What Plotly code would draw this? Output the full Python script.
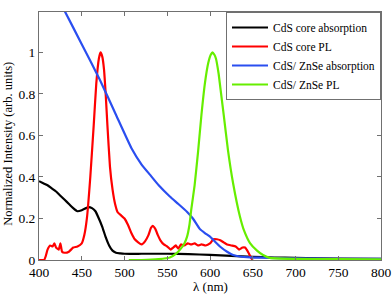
import plotly.graph_objects as go

# CdS core absorption
abs_core_x = [400, 405, 410, 415, 420, 425, 430, 435, 440, 445, 450, 455, 458, 462, 466, 470, 474, 478, 482, 486, 490, 495, 500, 520, 550, 575, 600, 625, 650, 675, 700, 750, 800]
abs_core_y = [0.38, 0.37, 0.36, 0.345, 0.33, 0.31, 0.29, 0.27, 0.25, 0.235, 0.24, 0.25, 0.255, 0.25, 0.235, 0.2, 0.16, 0.11, 0.07, 0.045, 0.035, 0.032, 0.03, 0.03, 0.03, 0.028, 0.025, 0.02, 0.015, 0.012, 0.01, 0.007, 0.005]

# CdS core PL
pl_core_x = [400, 406, 408, 410, 413, 416, 418, 420, 423, 425, 427, 430, 435, 440, 445, 450, 453, 456, 460, 464, 467, 470, 472, 474, 476, 478, 480, 483, 486, 489, 492, 496, 500, 504, 508, 512, 516, 520, 524, 528, 531, 533, 536, 539, 542, 546, 550, 554, 557, 560, 563, 566, 570, 574, 578, 582, 586, 590, 595, 600, 604, 608, 612, 616, 620, 625, 630, 634, 638, 641, 645, 648, 650]
pl_core_y = [0.0, 0.0, 0.02, 0.05, 0.07, 0.065, 0.08, 0.06, 0.05, 0.08, 0.04, 0.035, 0.04, 0.06, 0.065, 0.08, 0.12, 0.2, 0.4, 0.65, 0.85, 0.97, 1.0, 0.98, 0.92, 0.8, 0.65, 0.45, 0.34, 0.27, 0.23, 0.215, 0.2, 0.17, 0.13, 0.1, 0.085, 0.075, 0.09, 0.12, 0.155, 0.165, 0.15, 0.12, 0.095, 0.075, 0.065, 0.05, 0.06, 0.07, 0.055, 0.075, 0.07, 0.08, 0.075, 0.08, 0.07, 0.075, 0.07, 0.08, 0.1, 0.1, 0.095, 0.085, 0.075, 0.07, 0.065, 0.05, 0.06, 0.06, 0.035, 0.01, 0.0]

# CdS/ZnSe absorption
abs_shell_x = [400, 415, 430, 450, 471, 490, 508, 520, 530, 540, 553, 563, 573, 580, 588, 594, 600, 606, 612, 620, 627, 635, 647, 660, 680, 700, 750, 800]
abs_shell_y = [1.45, 1.32, 1.2, 1.04, 0.87, 0.7, 0.54, 0.46, 0.41, 0.36, 0.306, 0.27, 0.233, 0.2, 0.15, 0.13, 0.113, 0.088, 0.064, 0.04, 0.024, 0.017, 0.013, 0.011, 0.009, 0.008, 0.006, 0.005]

# CdS/ZnSe PL
pl_shell_x = [505, 520, 540, 553, 560, 565, 570, 573, 576, 578, 582, 586, 590, 594, 598, 601, 603, 605, 607, 610, 613, 616, 621, 627, 635, 640, 647, 655, 662, 670, 700, 750, 800]
pl_shell_y = [0.0, 0.0, 0.004, 0.012, 0.03, 0.05, 0.08, 0.11, 0.17, 0.24, 0.36, 0.52, 0.7, 0.85, 0.95, 0.99, 1.0, 0.99, 0.97, 0.9, 0.8, 0.7, 0.53, 0.37, 0.21, 0.14, 0.08, 0.045, 0.024, 0.01, 0.005, 0.004, 0.003]

series_names = ["CdS core absorption", "CdS core PL", "CdS/ ZnSe absorption", "CdS/ ZnSe PL"]
series_colors = ["#000000", "#ff0000", "#2a4ef0", "#66ee00"]

x_ticks = [400, 450, 500, 550, 600, 650, 700, 750, 800]
y_ticks = [0, 0.2, 0.4, 0.6, 0.8, 1]
y_tick_labels = ["0", "0.2", "0.4", "0.6", "0.8", "1"]

font_family = "Liberation Serif"

fig = go.Figure()
for xs, ys, name, color in zip(
    [abs_core_x, pl_core_x, abs_shell_x, pl_shell_x],
    [abs_core_y, pl_core_y, abs_shell_y, pl_shell_y],
    series_names, series_colors):
    fig.add_trace(go.Scatter(x=xs, y=ys, mode="lines", name=name,
                             line=dict(color=color, width=2.2, shape="spline", smoothing=0.4)))

axis_common = dict(showline=True, mirror="ticks", linecolor="#707070", linewidth=1,
                   ticks="inside", ticklen=4, tickcolor="#707070", showgrid=False,
                   zeroline=False, automargin=False,
                   tickfont=dict(family=font_family, size=13.5, color="#000"))

fig.update_layout(
    width=392, height=295,
    margin=dict(l=39, r=11, t=12, b=35),
    paper_bgcolor="white", plot_bgcolor="white",
    font=dict(family=font_family, color="#000"),
    xaxis=dict(range=[400, 800], tickvals=x_ticks, **axis_common),
    yaxis=dict(range=[0, 1.195], tickvals=y_ticks, ticktext=y_tick_labels, **axis_common),
    legend=dict(x=1, y=1, xanchor="right", yanchor="top",
                bgcolor="white", bordercolor="#707070", borderwidth=1,
                font=dict(family=font_family, size=11.5), tracegroupgap=0,
                itemwidth=36),
    showlegend=True,
    annotations=[
        dict(text="λ (nm)", x=0.5, y=-0.108, xref="paper", yref="paper",
             xanchor="center", yanchor="middle", showarrow=False,
             font=dict(family=font_family, size=13)),
        dict(text="Normalized Intensity (arb. units)", x=-0.09, y=0.47, xref="paper", yref="paper",
             xanchor="center", yanchor="middle", showarrow=False, textangle=-90,
             font=dict(family=font_family, size=12.5)),
    ],
)

fig.write_html("out.html", config={"displayModeBar": False},
               post_script="document.body.style.margin='0';document.body.style.overflow='hidden';")
